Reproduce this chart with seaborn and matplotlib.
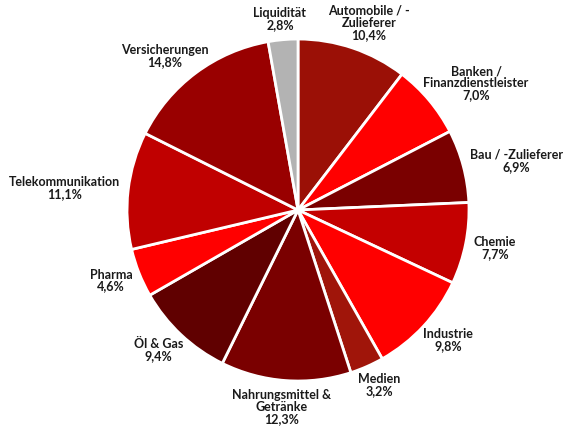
import matplotlib
matplotlib.use("Agg")
import matplotlib.pyplot as plt
import numpy as np
import seaborn as sns

sns.set_theme(style="white")
plt.rcParams['font.family'] = ['Lato', 'DejaVu Sans']

sectors = ["Automobile / -\nZulieferer", "Banken /\nFinanzdienstleister", "Bau / -Zulieferer",
           "Chemie", "Industrie", "Medien", "Nahrungsmittel &\nGetränke", "Öl & Gas",
           "Pharma", "Telekommunikation", "Versicherungen", "Liquidität"]
shares = [10.4, 7.0, 6.9, 7.7, 9.8, 3.2, 12.3, 9.4, 4.6, 11.1, 14.8, 2.8]
colors = ["#9b1006", "#ff0000", "#7a0000", "#c40000", "#ff0000", "#a0150a",
          "#7a0000", "#600000", "#ff0000", "#c00000", "#990000", "#b3b3b3"]

labels = [f"{s}\n{v:.1f}%".replace(".", ",") for s, v in zip(sectors, shares)]

fig = plt.figure(figsize=(5.64, 4.26), dpi=100)
ax = fig.add_axes([0.2252, 0.1056, 0.6064, 0.8028])
wedges, _ = ax.pie(shares, colors=colors, startangle=90, counterclock=False,
                   wedgeprops=dict(edgecolor="white", linewidth=2))
ax.set_xlim(-1, 1)
ax.set_ylim(-1, 1)
ax.set_aspect("equal")
ax.axis("off")

# place labels just outside the outer edge, like "outside end" labels
texts = []
for w, lab in zip(wedges, labels):
    ang = np.deg2rad((w.theta1 + w.theta2) / 2)
    x, y = 1.05 * np.cos(ang), 1.05 * np.sin(ang)
    t = ax.text(x, y, lab, ha="center", va="center", fontsize=9, fontweight="bold",
                color="#1a1a1a", linespacing=1.0)
    texts.append((t, ang, x, y))

fig.canvas.draw()
px = 2 / (0.6064 * 564)  # data units per pixel
for t, ang, x, y in texts:
    bb = t.get_window_extent()
    t.set_position((x + bb.width / 2 * np.cos(ang) * px,
                    y + bb.height / 2 * np.sin(ang) * px))

fig.savefig("out.png", dpi=100)
